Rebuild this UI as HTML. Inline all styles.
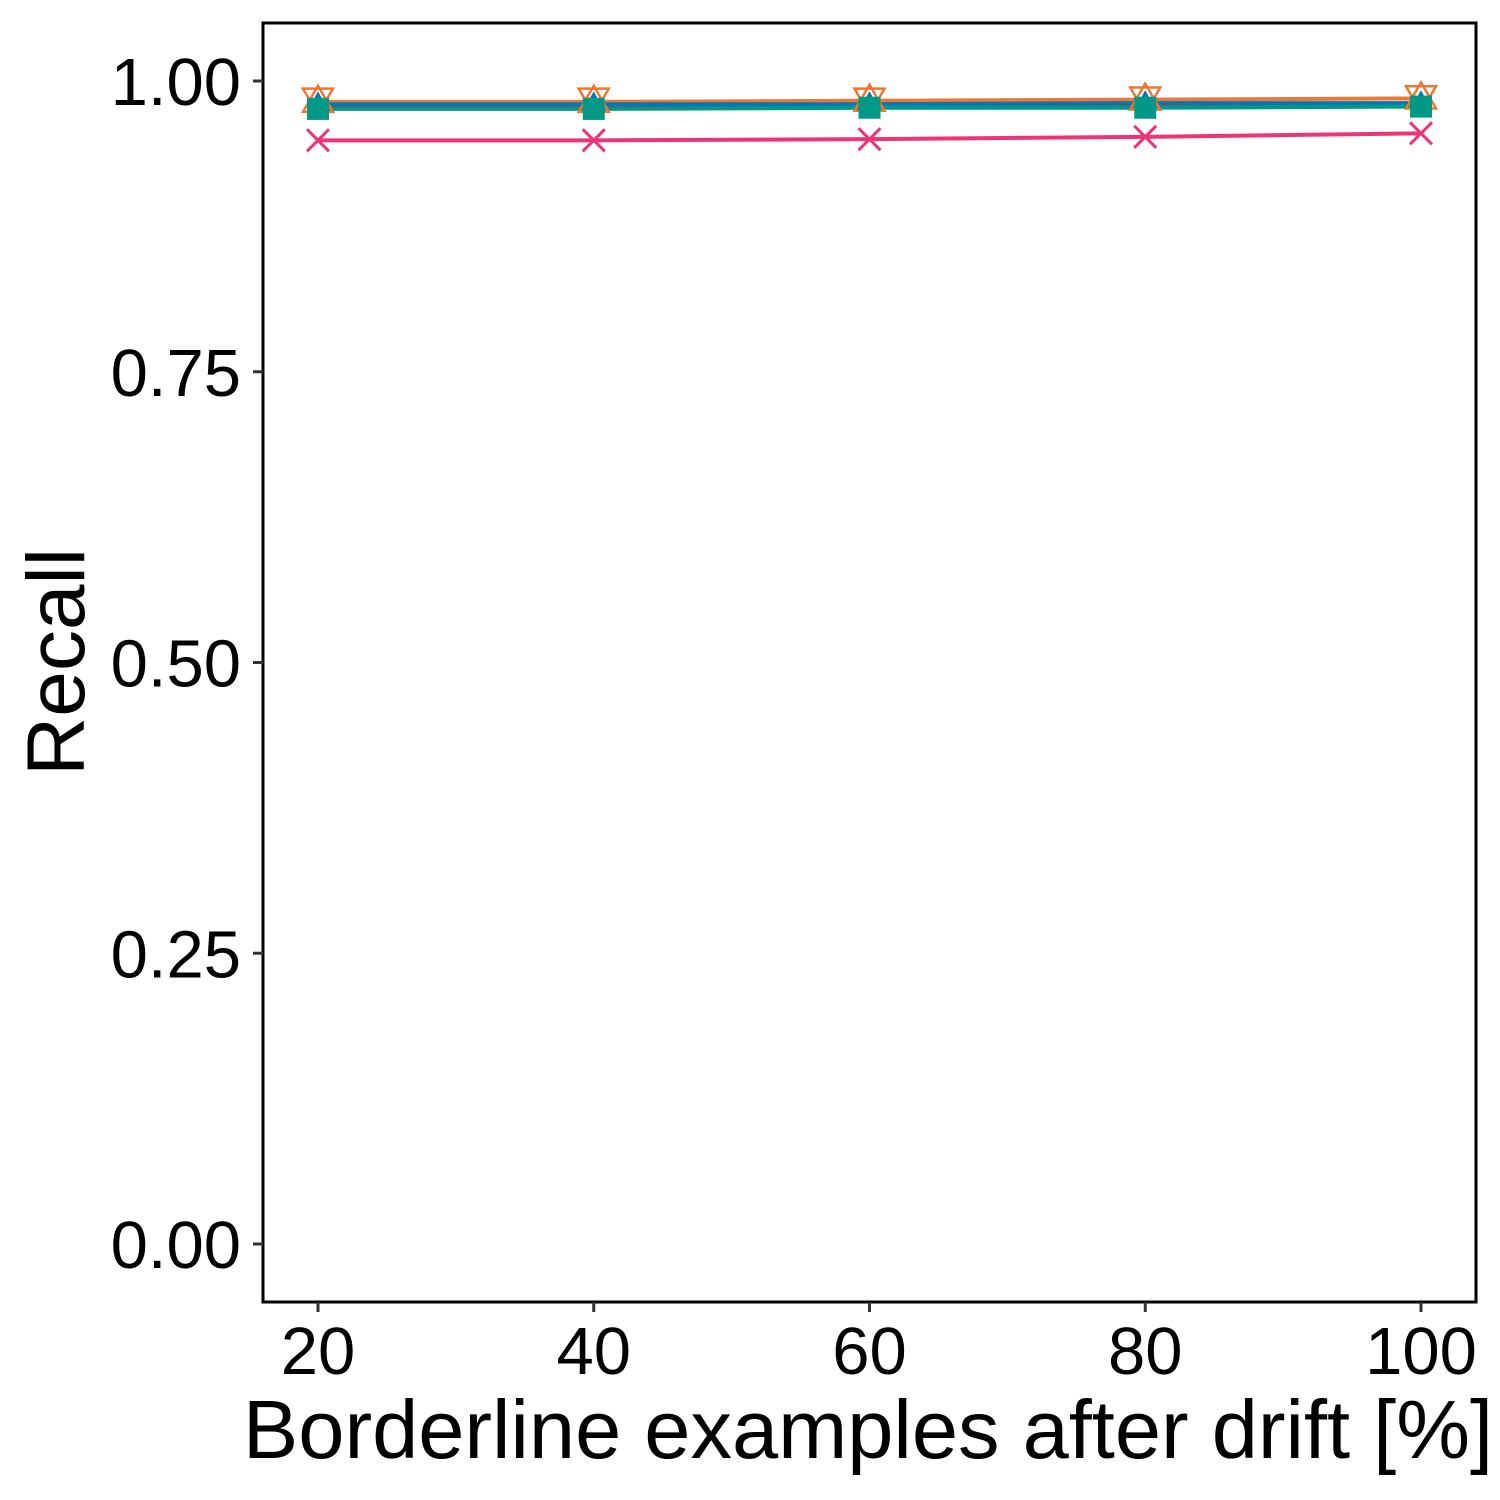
<!DOCTYPE html>
<html><head><meta charset="utf-8"><style>
html,body{margin:0;padding:0;background:#fff;}
svg{display:block;font-family:"Liberation Sans",Arial,sans-serif;}
</style></head><body>
<svg id="chart" width="1500" height="1500" viewBox="0 0 1500 1500">
<rect x="0" y="0" width="1500" height="1500" fill="#fff"/>
<g id="series"></g>
<rect x="263" y="23" width="1213" height="1279" fill="none" stroke="#000" stroke-width="3"/>
<g id="axes"></g>
<text x="868" y="1458" font-size="83" text-anchor="middle" fill="#000">Borderline examples after drift [%]</text>
<text transform="translate(84,662) rotate(-90)" font-size="82" text-anchor="middle" fill="#000">Recall</text>
</svg>
<script>
const categories = [20, 40, 60, 80, 100];
const yTicks = [0, 0.25, 0.5, 0.75, 1.0];
const yTickLabels = ["0.00", "0.25", "0.50", "0.75", "1.00"];
const seriesRed = [0.978, 0.978, 0.978, 0.979, 0.979];
const seriesOrange = [0.982, 0.982, 0.983, 0.984, 0.985];
const seriesOrangeDown = [0.984, 0.984, 0.984, 0.985, 0.986];
const seriesBlue = [0.980, 0.980, 0.980, 0.981, 0.981];
const seriesTeal = [0.976, 0.976, 0.977, 0.977, 0.978];
const seriesPink = [0.949, 0.949, 0.950, 0.952, 0.955];

const NS = "http://www.w3.org/2000/svg";
function xs(v){ return 318 + (v - 20) * (1421 - 318) / 80; }
function ys(v){ return 1244 - v * 1163; }
function mk(tag, attrs, parent){ const e = document.createElementNS(NS, tag); for (const k in attrs) e.setAttribute(k, attrs[k]); parent.appendChild(e); return e; }

const axes = document.getElementById('axes');
yTicks.forEach((t, i) => {
  const l = mk('line', {x1:253, x2:263, y1:ys(t), y2:ys(t), stroke:'#333', 'stroke-width':3}, axes);
  
  
  const tx = mk('text', {x:241, y:ys(t)+24, 'font-size':67, 'text-anchor':'end', fill:'#000'}, axes);
  tx.textContent = yTickLabels[i];
  
  
});
categories.forEach(c => {
  const l = mk('line', {x1:xs(c), x2:xs(c), y1:1302, y2:1312, stroke:'#333', 'stroke-width':3}, axes);
  
  
  const tx = mk('text', {x:xs(c), y:1374, 'font-size':67, 'text-anchor':'middle', fill:'#000'}, axes);
  tx.textContent = String(c);
  
  
});

const sg = document.getElementById('series');
function line(vals, color, name){
  const pts = vals.map((v, i) => xs(categories[i]) + ',' + ys(v)).join(' ');
  const p = mk('polyline', {points:pts, fill:'none', stroke:color, 'stroke-width':4}, sg);
  
  
}
function markers(vals, color, kind, name){
  vals.forEach((v, i) => {
    const x = xs(categories[i]), y = ys(v);
    let e;
    if (kind === 'tri-up-open') e = mk('polygon', {points:`${x},${y-16} ${x-15},${y+10} ${x+15},${y+10}`, fill:'none', stroke:color, 'stroke-width':2.5}, sg);
    else if (kind === 'tri-down-open') e = mk('polygon', {points:`${x-15},${y-11} ${x+15},${y-11} ${x},${y+15}`, fill:'none', stroke:color, 'stroke-width':2.5}, sg);
    else if (kind === 'tri-fill') e = mk('polygon', {points:`${x},${y-13} ${x-11},${y+7} ${x+11},${y+7}`, fill:color}, sg);
    else if (kind === 'square') e = mk('rect', {x:x-11, y:y-11, width:22, height:22, fill:color}, sg);
    else if (kind === 'x') e = mk('path', {d:`M${x-11},${y-11}L${x+11},${y+11}M${x-11},${y+11}L${x+11},${y-11}`, stroke:color, 'stroke-width':3}, sg);
    
    
  });
}
line(seriesRed, '#c0392b', 'line-red');
line(seriesOrange, '#ee7733', 'line-orange');
line(seriesBlue, '#0077bb', 'line-blue');
line(seriesTeal, '#009988', 'line-teal');
line(seriesPink, '#ee3377', 'line-pink');
markers(seriesOrange, '#ee7733', 'tri-up-open', 'marker-orange-up');
markers(seriesOrangeDown, '#ee7733', 'tri-down-open', 'marker-orange-down');
markers(seriesBlue, '#0077bb', 'tri-fill', 'marker-blue');
markers(seriesTeal, '#009988', 'square', 'marker-teal');
markers(seriesPink, '#ee3377', 'x', 'marker-pink');
</script>
</body></html>
